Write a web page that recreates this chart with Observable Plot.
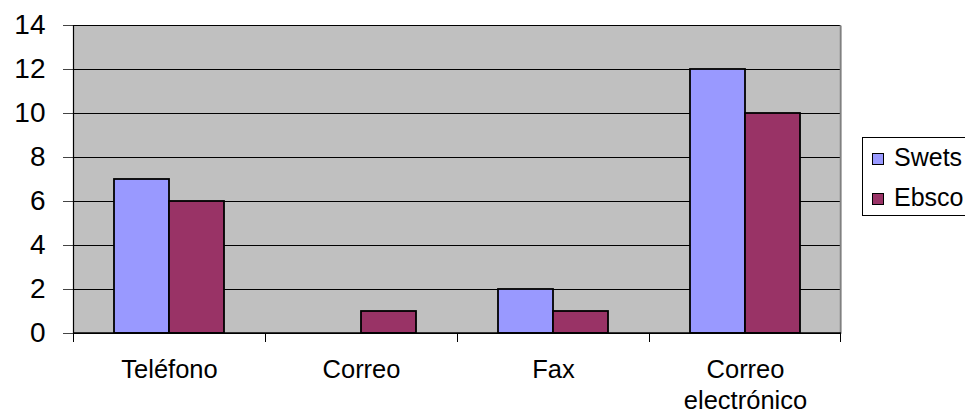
<!DOCTYPE html>
<html>
<head>
<meta charset="utf-8">
<script src="https://cdn.jsdelivr.net/npm/d3@7"></script>
<script src="https://cdn.jsdelivr.net/npm/@observablehq/plot@0.6"></script>
<style>
  html, body { margin: 0; padding: 0; background: #fff; overflow: hidden; }
  #wrap { position: relative; width: 965px; height: 416px; font-family: "Liberation Sans", Arial, sans-serif; }
  #chart svg { display: block; }
  #legend { position: absolute; left: 862px; top: 137px; width: 120px; height: 79px; border: 1px solid #000; box-sizing: border-box; background: #fff; }
  .item { position: absolute; left: 9px; font-size: 25px; line-height: 25px; color: #000; }
  .sw { position: absolute; left: 0; width: 12px; height: 12px; border: 1.5px solid #000; box-sizing: border-box; }
  .lbl { position: absolute; left: 22px; white-space: nowrap; }
</style>
</head>
<body>
<div id="wrap">
  <div id="chart"></div>
  <div id="legend"></div>
</div>
<script>
const categories = ["Teléfono", "Correo", "Fax", "Correo electrónico"];
const categoryLabels = ["Teléfono", "Correo", "Fax", "Correo\nelectrónico"];
const series = ["Swets", "Ebsco"];
const swets = [7, 0, 2, 12];
const ebsco = [6, 1, 1, 10];
const seriesColors = ["#9999FF", "#993366"];
const yTicks = [0, 2, 4, 6, 8, 10, 12, 14];

const rows = [];
categories.forEach((c, i) => {
  rows.push({cat: c, series: "Swets", value: swets[i]});
  rows.push({cat: c, series: "Ebsco", value: ebsco[i]});
});

const plot = Plot.plot({
  width: 845,
  height: 416,
  marginLeft: 72,
  marginRight: 4,
  marginTop: 25,
  marginBottom: 83,
  style: {fontFamily: "'Liberation Sans', Arial, sans-serif", fontSize: "25px", background: "white", color: "#000"},
  fx: {domain: categories, padding: 0, label: null, axis: null},
  x: {domain: series, paddingInner: 0, paddingOuter: 0.73, axis: null},
  y: {domain: [0, 14], label: null},
  color: {domain: series, range: seriesColors},
  marks: [
    Plot.frame({fill: "#C0C0C0", stroke: "none", insetLeft: -0.5, insetRight: -0.5, shapeRendering: "crispEdges"}),
    Plot.ruleY(yTicks, {stroke: "#000", strokeWidth: 1}),
    Plot.barY(rows, {fx: "cat", x: "series", y: "value", fill: "series", stroke: "#000", strokeWidth: 1.8}),
    Plot.axisY({ticks: yTicks, tickSize: 10, tickPadding: 18, fontSize: 28, stroke: "#444", label: null}),
    Plot.axisFx({anchor: "bottom", tickSize: 0, tickPadding: 22, fontSize: 25.5, lineHeight: 1.22, label: null,
      tickFormat: d => categoryLabels[categories.indexOf(d)]})
  ]
});
document.getElementById("chart").appendChild(plot);

// axis line, right border and category boundary ticks, placed from the plot's scales
const fx = plot.scale("fx");
const yS = plot.scale("y");
const svg = d3.select(plot);
const y0 = yS.apply(0), yTop = yS.apply(14);
const bounds = categories.map(c => fx.apply(c)).concat([fx.apply(categories[categories.length - 1]) + fx.bandwidth]);
const g = svg.append("g");
g.append("line").attr("x1", bounds[0] + 0.5).attr("x2", bounds[0] + 0.5).attr("y1", yTop).attr("y2", y0)
  .attr("stroke", "#000").attr("stroke-width", 1.2);
g.append("line").attr("x1", bounds[bounds.length - 1] - 0.5).attr("x2", bounds[bounds.length - 1] - 0.5).attr("y1", yTop).attr("y2", y0)
  .attr("stroke", "#808080").attr("stroke-width", 1.5);
g.selectAll("line.bt").data(bounds).join("line").attr("class", "bt")
  .attr("x1", (d, i) => i === bounds.length - 1 ? d - 0.5 : d + 0.5)
  .attr("x2", (d, i) => i === bounds.length - 1 ? d - 0.5 : d + 0.5)
  .attr("y1", y0).attr("y2", y0 + 9).attr("stroke", "#000").attr("stroke-width", 1);
g.append("line").attr("x1", bounds[0]).attr("x2", bounds[bounds.length - 1]).attr("y1", y0).attr("y2", y0)
  .attr("stroke", "#000").attr("stroke-width", 1.5);

// legend
const legend = d3.select("#legend");
series.forEach((s, i) => {
  const it = legend.append("div").attr("class", "item").style("top", (i === 0 ? 7 : 47) + "px");
  it.append("div").attr("class", "sw").style("top", "8px").style("background", seriesColors[i]);
  it.append("div").attr("class", "lbl").style("top", "0px").text(s);
});
</script>
</body>
</html>
